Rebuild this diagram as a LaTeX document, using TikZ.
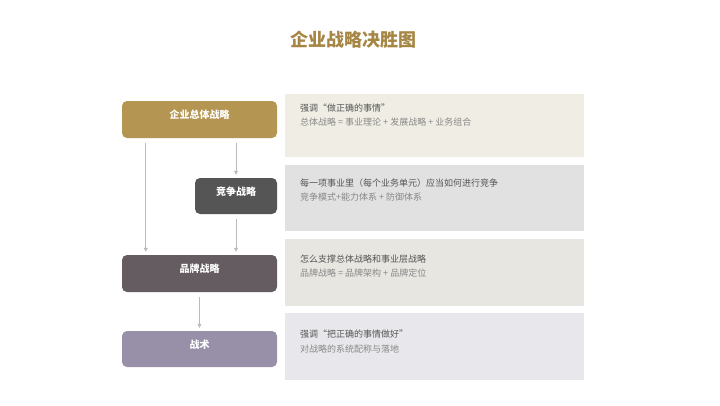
\documentclass[tikz,border=0pt]{standalone}
\usepackage{fontspec}
\setmainfont{Noto Sans CJK SC}
\usepackage{xcolor}
\usetikzlibrary{arrows.meta}

\definecolor{titlegold}{RGB}{166,134,69}
\definecolor{goldbox}{RGB}{180,150,82}
\definecolor{greybox}{RGB}{85,85,85}
\definecolor{brandbox}{RGB}{100,92,96}
\definecolor{tacticbox}{RGB}{152,144,168}
\definecolor{panelA}{RGB}{240,238,228}
\definecolor{panelB}{RGB}{226,225,226}
\definecolor{panelC}{RGB}{232,230,224}
\definecolor{panelD}{RGB}{232,232,236}
\definecolor{headtext}{RGB}{85,85,85}
\definecolor{subtext}{RGB}{136,136,136}
\definecolor{arrowgrey}{RGB}{187,187,187}

\begin{document}
\begin{tikzpicture}[x=1pt,y=-1pt]
%style for strategy level box
\tikzstyle{levelbox} = [rectangle, rounded corners=5pt, text=white, font=\bfseries\fontsize{10}{12}\selectfont, minimum height=37pt, inner sep=0pt, text height=4pt, text depth=5.4pt]

%style for explanation panel
\tikzstyle{panel} = [rectangle, minimum width=299pt, inner sep=0pt]

%style for explanation text
\tikzstyle{note} = [anchor=west, align=left, inner sep=0pt, font=\fontsize{9}{14.5}\selectfont]

%style for connector
\tikzstyle{link} = [-{Triangle[length=4pt,width=4pt]}, draw=arrowgrey, line width=0.8pt, shorten <=5pt, shorten >=3pt]

\useasboundingbox[fill=white] (0,0) rectangle (720,405);

%title
\node[text=titlegold, font=\bfseries\fontsize{18}{20}\selectfont](title) at (353,40) {企业战略决胜图};

%place level boxes
\node[levelbox, fill=goldbox, minimum width=155pt](corp) at (199.5,119.5) {企业总体战略};
\node[levelbox, fill=greybox, minimum width=82pt, minimum height=36pt](compete) at (236,196) {竞争战略};
\node[levelbox, fill=brandbox, minimum width=155pt](brand) at (199.5,273.5) {品牌战略};
\node[levelbox, fill=tacticbox, minimum width=155pt, minimum height=36pt](tactic) at (199.5,349) {战术};

%place panels
\node[panel, fill=panelA, minimum height=63pt](panelCorp) at (434.5,125.5) {};
\node[panel, fill=panelB, minimum height=66pt](panelCompete) at (434.5,198) {};
\node[panel, fill=panelC, minimum height=67pt](panelBrand) at (434.5,272.5) {};
\node[panel, fill=panelD, minimum height=67pt](panelTactic) at (434.5,346.5) {};

%place panel texts
\node[note](noteCorp) at (300,115) {\textcolor{headtext}{强调“做正确的事情”}\\\textcolor{subtext}{总体战略 = 事业理论 + 发展战略 + 业务组合}};
\node[note](noteCompete) at (300,190) {\textcolor{headtext}{每一项事业里（每个业务单元）应当如何进行竞争}\\\textcolor{subtext}{竞争模式+能力体系 + 防御体系}};
\node[note](noteBrand) at (300,266) {\textcolor{headtext}{怎么支撑总体战略和事业层战略}\\\textcolor{subtext}{品牌战略 = 品牌架构 + 品牌定位}};
\node[note](noteTactic) at (300,341.5) {\textcolor{headtext}{强调“把正确的事情做好”}\\\textcolor{subtext}{对战略的系统配称与落地}};

%connect boxes with arrows
\draw[link] ([xshift=24pt]corp.south west) -- ([xshift=24pt]brand.north west);
\draw[link] (corp.south -| compete.north) -- (compete.north);
\draw[link] (compete.south) -- (brand.north -| compete.south);
\draw[link] (brand.south) -- (tactic.north);
\end{tikzpicture}
\end{document}
